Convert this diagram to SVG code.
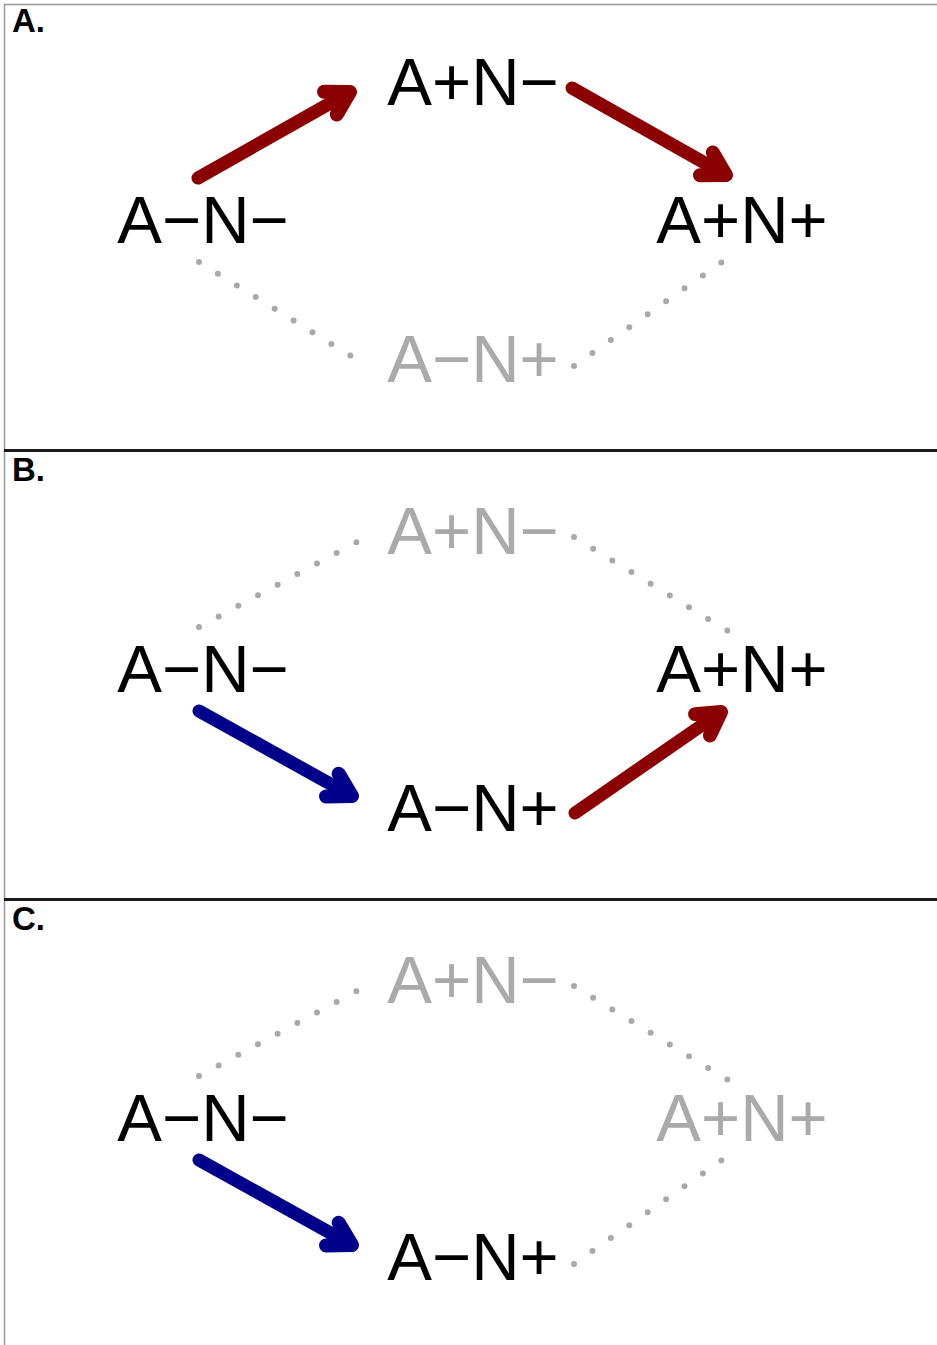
<svg xmlns="http://www.w3.org/2000/svg" width="937" height="1345" viewBox="0 0 937 1345">
<style>
.lbl{font-family:"Liberation Sans",Arial,sans-serif;font-weight:bold;font-size:33px;fill:#000}
.nd{font-family:"Liberation Sans",Arial,sans-serif;font-size:67px;text-anchor:middle}
.on{fill:#000}
.off{fill:#AAAAAA}
.dot{fill:none;stroke:#A9A9A9;stroke-width:6;stroke-linecap:round}
.ul{stroke-dasharray:0 22.33}
.ur{stroke-dasharray:0 22.45}
.ll{stroke-dasharray:0 22.24}
.lr{stroke-dasharray:0 22.51}
.red{fill:none;stroke:#8B0000;stroke-width:13;stroke-linecap:round;stroke-linejoin:round}
.blue{fill:none;stroke:#00008B;stroke-width:13;stroke-linecap:round;stroke-linejoin:round}
</style>
<defs>
<marker id="hr" markerUnits="userSpaceOnUse" orient="auto" refX="0" refY="0" markerWidth="40" markerHeight="40" viewBox="-30 -20 40 40" overflow="visible">
<path d="M-22.5,-13 L0,0 L-22.5,13" fill="none" stroke="#8B0000" stroke-width="14" stroke-linecap="round" stroke-linejoin="round"/>
</marker>
<marker id="hb" markerUnits="userSpaceOnUse" orient="auto" refX="0" refY="0" markerWidth="40" markerHeight="40" viewBox="-30 -20 40 40" overflow="visible">
<path d="M-22.5,-13 L0,0 L-22.5,13" fill="none" stroke="#00008B" stroke-width="14" stroke-linecap="round" stroke-linejoin="round"/>
</marker>
</defs>
<rect width="937" height="1345" fill="#fff"/>
<g id="frame">
<line x1="4" y1="4.5" x2="937" y2="4.5" stroke="#9a9a9a" stroke-width="1.5"/>
<line x1="4.5" y1="4" x2="4.5" y2="1345" stroke="#9a9a9a" stroke-width="1.5"/>
<line x1="4" y1="450.5" x2="937" y2="450.5" stroke="#1a1a1a" stroke-width="3"/>
<line x1="4" y1="899.5" x2="937" y2="899.5" stroke="#1a1a1a" stroke-width="3"/>
</g>
<g id="panel-labels">
<text class="lbl" x="12" y="32">A.</text>
<text class="lbl" x="12" y="481">B.</text>
<text class="lbl" x="12" y="930">C.</text>
</g>
<g id="connectors">
<path class="red" d="M198,178 L350,92" marker-end="url(#hr)"/>
<path class="red" d="M572,88 L726,175" marker-end="url(#hr)"/>
<path class="dot ll" d="M199,262 L351,356"/>
<path class="dot lr" d="M574,366 L722,262"/>
<g transform="translate(0,449)">
<path class="dot ul" d="M199,178 L357,93"/>
<path class="dot ur" d="M574,88 L728,182"/>
<path class="blue" d="M199,262 L352,347" marker-end="url(#hb)"/>
<path class="red" d="M575,364 L721,263" marker-end="url(#hr)"/>
</g>
<g transform="translate(0,898)">
<path class="dot ul" d="M199,178 L357,93"/>
<path class="dot ur" d="M574,88 L728,182"/>
<path class="blue" d="M199,262 L352,347" marker-end="url(#hb)"/>
<path class="dot lr" d="M574,366 L722,262"/>
</g>
</g>
<g id="panelA">
<g id="A-AmNm"><text class="nd on" x="203" y="243">A−N−</text></g>
<g id="A-ApNm"><text class="nd on" x="473" y="105">A+N−</text></g>
<g id="A-ApNp"><text class="nd on" x="742" y="243">A+N+</text></g>
<g id="A-AmNp"><text class="nd off" x="473" y="382">A−N+</text></g>
</g>
<g id="panelB" transform="translate(0,449)">
<g id="B-AmNm"><text class="nd on" x="203" y="243">A−N−</text></g>
<g id="B-ApNm"><text class="nd off" x="473" y="105">A+N−</text></g>
<g id="B-ApNp"><text class="nd on" x="742" y="243">A+N+</text></g>
<g id="B-AmNp"><text class="nd on" x="473" y="382">A−N+</text></g>
</g>
<g id="panelC" transform="translate(0,898)">
<g id="C-AmNm"><text class="nd on" x="203" y="243">A−N−</text></g>
<g id="C-ApNm"><text class="nd off" x="473" y="105">A+N−</text></g>
<g id="C-ApNp"><text class="nd off" x="742" y="243">A+N+</text></g>
<g id="C-AmNp"><text class="nd on" x="473" y="382">A−N+</text></g>
</g>
</svg>
